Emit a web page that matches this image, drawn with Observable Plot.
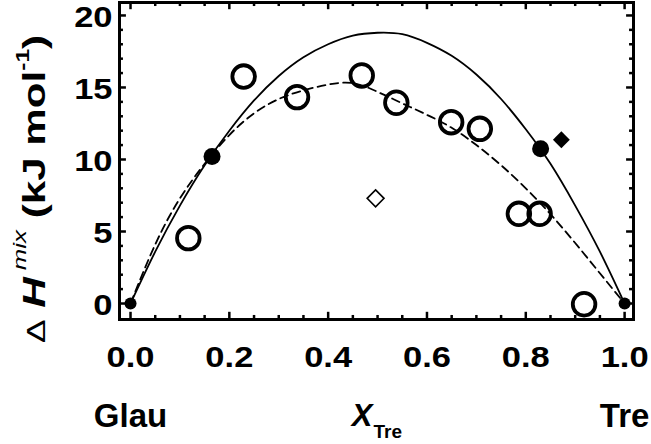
<!DOCTYPE html>
<html>
<head>
<meta charset="utf-8">
<script src="https://cdn.jsdelivr.net/npm/d3@7"></script>
<script src="https://cdn.jsdelivr.net/npm/@observablehq/plot@0.6"></script>
<style>
  html, body { margin: 0; padding: 0; background: white; }
  #chart svg { display: block; }
</style>
</head>
<body>
<div id="chart"></div>
<script>
// ---- data ----
const openX = [0.117, 0.229, 0.337, 0.468, 0.538, 0.649, 0.707, 0.786, 0.828, 0.918];
const openY = [4.54, 15.76, 14.33, 15.83, 13.94, 12.59, 12.13, 6.23, 6.23, -0.05];

const filledEndX = [0, 1];
const filledEndY = [0, 0];
const filledMidX = [0.165, 0.830];
const filledMidY = [10.2, 10.74];

const filledDiamondX = [0.872];
const filledDiamondY = [11.37];
const openDiamondX = [0.496];
const openDiamondY = [7.3];

// fitted curves, every 0.05
const curveX = [0, 0.05, 0.1, 0.15, 0.2, 0.25, 0.3, 0.35, 0.4, 0.45, 0.5,
                0.55, 0.6, 0.65, 0.7, 0.75, 0.8, 0.85, 0.9, 0.95, 1.0];
const solidY = [0, 3.6, 6.8, 9.6, 12.0, 14.1, 15.8, 17.1, 18.0, 18.6, 18.8,
                18.7, 18.1, 17.2, 15.9, 14.2, 12.1, 9.7, 6.8, 3.6, 0];
const dashedY = [0, 4.1, 7.3, 9.7, 11.7, 13.2, 14.2, 14.8, 15.2, 15.3, 14.7,
                 13.9, 13.1, 12.2, 11.0, 9.6, 8.0, 6.2, 4.2, 2.1, 0];

// ticks and labels
const xMajor = [0, 0.2, 0.4, 0.6, 0.8, 1.0];
const xMinor = [0.05, 0.1, 0.15, 0.25, 0.3, 0.35, 0.45, 0.5, 0.55, 0.65, 0.7, 0.75, 0.85, 0.9, 0.95];
const yMajor = [0, 5, 10, 15, 20];
const yMinor = [1, 2, 3, 4, 6, 7, 8, 9, 11, 12, 13, 14, 16, 17, 18, 19];
const endLabels = ["Glau", "Tre"];
const endLabelX = [0, 1];
const xTitle = "X";
const xTitleSub = "Tre";
const xTitleAt = [0.5];

// ---- chart ----
const xDom = [-0.0223, 1.018];
const yDom = [-1.11, 20.9];
const majX = 0.014, minX = 0.008;   // tick lengths in x units
const majY = 0.5, minY = 0.28;      // tick lengths in y units

const solid = curveX.map((x, i) => ({x, y: solidY[i]}));
const dashed = curveX.map((x, i) => ({x, y: dashedY[i]}));

const svg = Plot.plot({
  width: 651,
  height: 444,
  marginTop: 2,
  marginBottom: 125,
  marginLeft: 119,
  marginRight: 18,
  style: {fontFamily: "'Liberation Sans', Arial, sans-serif", fontSize: "30px", fontWeight: "bold", background: "white", color: "black"},
  x: {domain: xDom},
  y: {domain: yDom},
  marks: [
    // axes tick labels
    Plot.axisX({ticks: xMajor, tickSize: 0, tickPadding: 26, tickFormat: d3.format(".1f"), label: null}),
    Plot.axisY({ticks: yMajor, tickSize: 0, tickPadding: 7, dy: 2, tickFormat: d3.format("d"), label: null}),
    // inward ticks, all four sides
    Plot.ruleX(xMajor, {x: d => d, y1: yDom[0], y2: yDom[0] + majY, stroke: "black", strokeWidth: 2.5}),
    Plot.ruleX(xMinor, {x: d => d, y1: yDom[0], y2: yDom[0] + minY, stroke: "black", strokeWidth: 2.5}),
    Plot.ruleX(xMajor, {x: d => d, y1: yDom[1], y2: yDom[1] - majY, stroke: "black", strokeWidth: 2.5}),
    Plot.ruleX(xMinor, {x: d => d, y1: yDom[1], y2: yDom[1] - minY, stroke: "black", strokeWidth: 2.5}),
    Plot.ruleY(yMajor, {y: d => d, x1: xDom[0], x2: xDom[0] + majX, stroke: "black", strokeWidth: 2.5}),
    Plot.ruleY(yMinor, {y: d => d, x1: xDom[0], x2: xDom[0] + minX, stroke: "black", strokeWidth: 2.5}),
    Plot.ruleY(yMajor, {y: d => d, x1: xDom[1], x2: xDom[1] - majX, stroke: "black", strokeWidth: 2.5}),
    Plot.ruleY(yMinor, {y: d => d, x1: xDom[1], x2: xDom[1] - minX, stroke: "black", strokeWidth: 2.5}),
    Plot.frame({stroke: "black", strokeWidth: 3}),
    // curves
    Plot.line(solid, {x: "x", y: "y", curve: "natural", stroke: "black", strokeWidth: 1.8}),
    Plot.line(dashed, {x: "x", y: "y", curve: "natural", stroke: "black", strokeWidth: 1.8, strokeDasharray: "8,5"}),
    // points
    Plot.dot(openX, {x: d => d, y: (d, i) => openY[i], r: 11.3, stroke: "black", strokeWidth: 3.8, fill: "white", fillOpacity: 0}),
    Plot.dot(filledEndX, {x: d => d, y: (d, i) => filledEndY[i], r: 6, fill: "black", stroke: "none"}),
    Plot.dot(filledMidX, {x: d => d, y: (d, i) => filledMidY[i], r: 8.5, fill: "black", stroke: "none"}),
    Plot.dot(filledDiamondX, {x: d => d, y: (d, i) => filledDiamondY[i], symbol: "diamond2", r: 7.6, fill: "black", stroke: "none"}),
    Plot.dot(openDiamondX, {x: d => d, y: (d, i) => openDiamondY[i], symbol: "diamond2", r: 7.6, fill: "none", stroke: "black", strokeWidth: 1.6}),
    // bottom labels
    Plot.text(endLabels, {x: (d, i) => endLabelX[i], text: d => d, frameAnchor: "bottom", lineAnchor: "bottom", dy: 107, fontSize: 33, fontWeight: "bold", fill: "black"}),
    Plot.text(xTitleAt, {x: d => d, text: () => xTitle, frameAnchor: "bottom", lineAnchor: "bottom", textAnchor: "end", dx: -5, dy: 106, fontSize: 31, fontWeight: "bold", fontStyle: "italic", fill: "black"}),
    Plot.text(xTitleAt, {x: d => d, text: () => xTitleSub, frameAnchor: "bottom", lineAnchor: "bottom", textAnchor: "start", dx: -4, dy: 118, fontSize: 19, fontWeight: "bold", fill: "black"})
  ]
});

// widen tick labels slightly like the reference lettering
d3.select(svg).selectAll('g[aria-label="x-axis tick label"] text, g[aria-label="y-axis tick label"] text')
  .attr("transform", function () {
    const t = this.getAttribute("transform") || "";
    return t + " scale(1.15,1)";
  });

// y-axis title with superscripts
const yt = d3.select(svg).append("text")
  .attr("transform", "translate(45,189) rotate(-90) scale(1.36,1)")
  .attr("text-anchor", "middle")
  .attr("font-family", "'Liberation Sans', Arial, sans-serif")
  .attr("font-size", 31)
  .attr("font-weight", "bold")
  .attr("fill", "black");
yt.append("tspan").attr("font-weight", "normal").attr("font-size", 26).text("\u0394");
yt.append("tspan").text(" ");
yt.append("tspan").attr("font-style", "italic").text("H");
yt.append("tspan").attr("font-style", "italic").attr("font-weight", "normal").attr("font-size", 19).attr("dy", -19).text(" mix");
yt.append("tspan").attr("dy", 19).text(" (kJ mol");
yt.append("tspan").attr("font-size", 18).attr("dy", -16).text("-1");
yt.append("tspan").attr("dy", 16).text(")");

document.getElementById("chart").appendChild(svg);
</script>
</body>
</html>
